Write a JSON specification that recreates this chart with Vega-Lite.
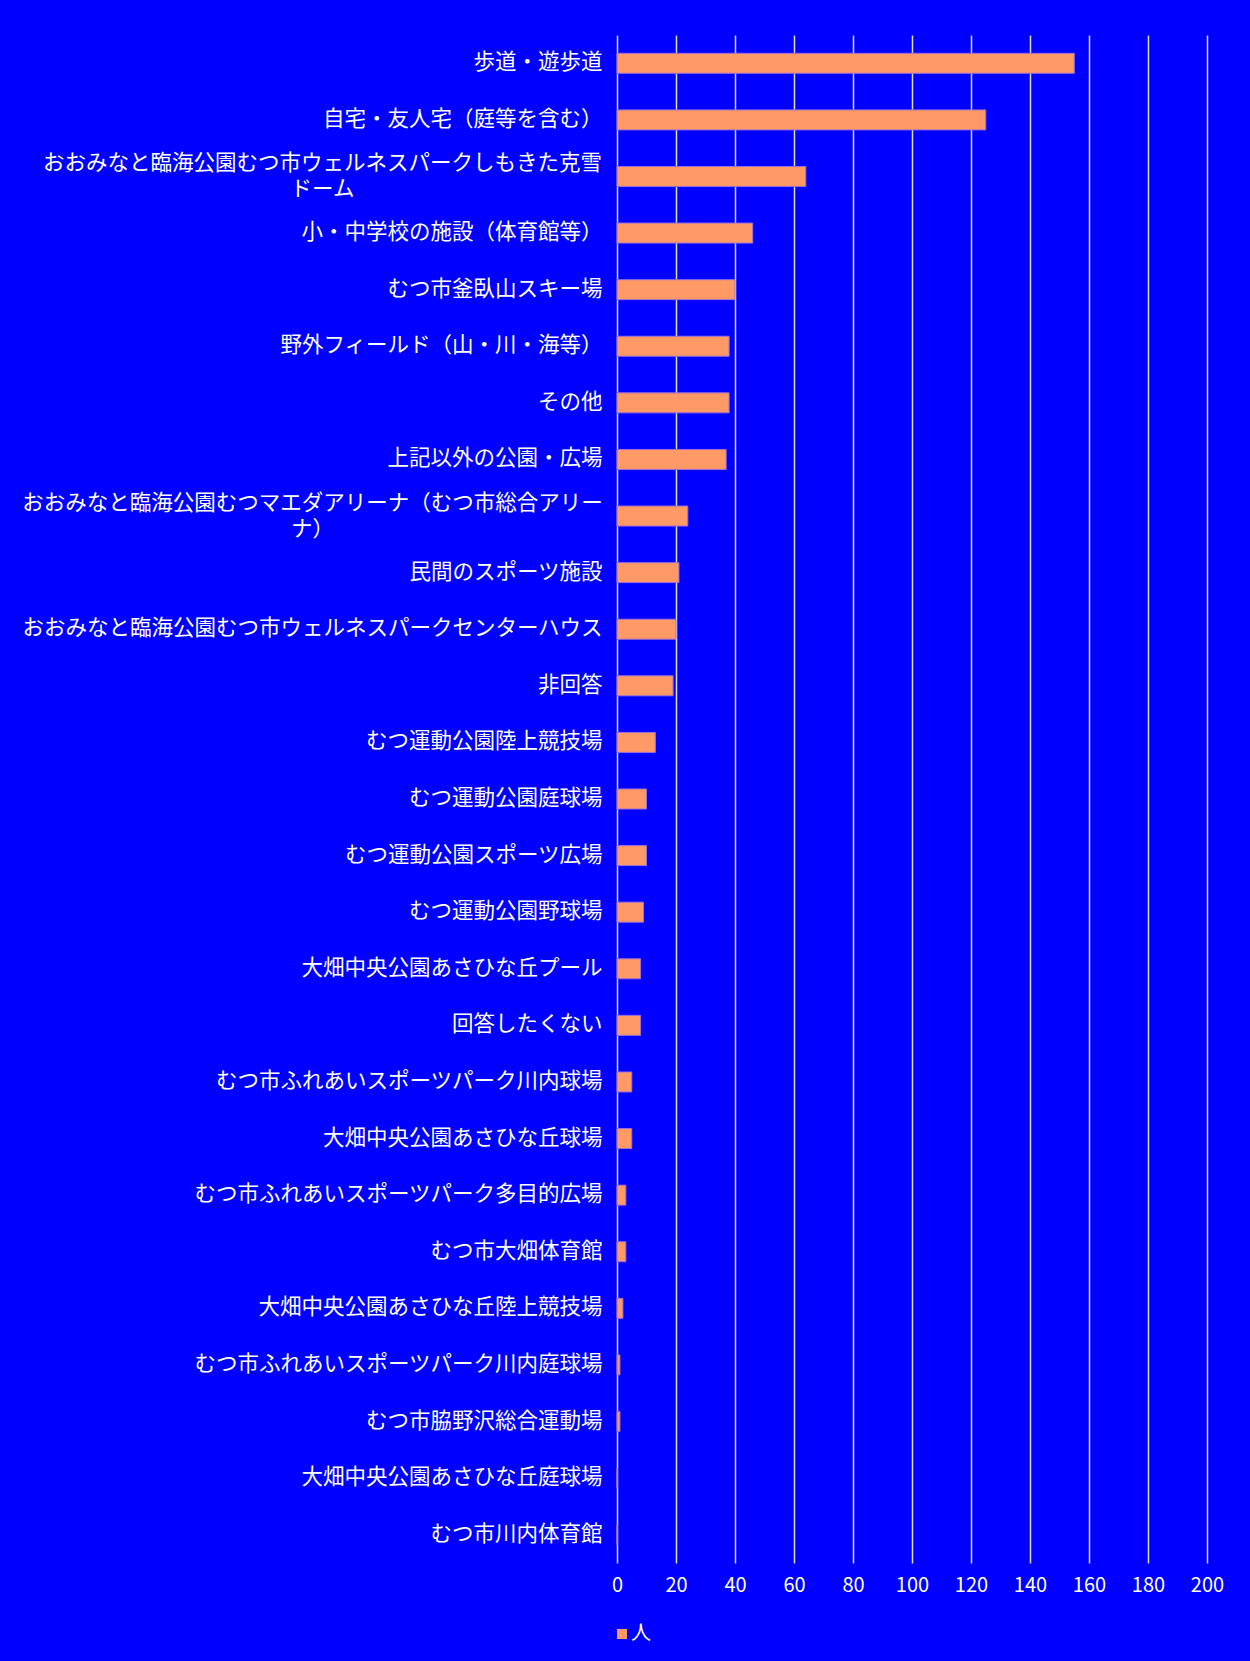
{
  "$schema": "https://vega.github.io/schema/vega-lite/v6.json",
  "autosize": {"type": "none"},
  "width": 590,
  "height": 1528,
  "padding": {"left": 617, "top": 35, "right": 43, "bottom": 98},
  "background": "#0000FF",
  "config": {
    "view": {"stroke": null},
    "font": "Noto Sans CJK JP"
  },
  "data": {
    "values": [
      {"place": "歩道・遊歩道", "count": 155},
      {"place": "自宅・友人宅（庭等を含む）", "count": 125},
      {"place": "おおみなと臨海公園むつ市ウェルネスパークしもきた克雪ドーム", "count": 64},
      {"place": "小・中学校の施設（体育館等）", "count": 46},
      {"place": "むつ市釜臥山スキー場", "count": 40},
      {"place": "野外フィールド（山・川・海等）", "count": 38},
      {"place": "その他", "count": 38},
      {"place": "上記以外の公園・広場", "count": 37},
      {"place": "おおみなと臨海公園むつマエダアリーナ（むつ市総合アリーナ）", "count": 24},
      {"place": "民間のスポーツ施設", "count": 21},
      {"place": "おおみなと臨海公園むつ市ウェルネスパークセンターハウス", "count": 20},
      {"place": "非回答", "count": 19},
      {"place": "むつ運動公園陸上競技場", "count": 13},
      {"place": "むつ運動公園庭球場", "count": 10},
      {"place": "むつ運動公園スポーツ広場", "count": 10},
      {"place": "むつ運動公園野球場", "count": 9},
      {"place": "大畑中央公園あさひな丘プール", "count": 8},
      {"place": "回答したくない", "count": 8},
      {"place": "むつ市ふれあいスポーツパーク川内球場", "count": 5},
      {"place": "大畑中央公園あさひな丘球場", "count": 5},
      {"place": "むつ市ふれあいスポーツパーク多目的広場", "count": 3},
      {"place": "むつ市大畑体育館", "count": 3},
      {"place": "大畑中央公園あさひな丘陸上競技場", "count": 2},
      {"place": "むつ市ふれあいスポーツパーク川内庭球場", "count": 1},
      {"place": "むつ市脇野沢総合運動場", "count": 1},
      {"place": "大畑中央公園あさひな丘庭球場", "count": 0},
      {"place": "むつ市川内体育館", "count": 0}
    ]
  },
  "mark": {"type": "bar", "stroke": "#9A70D8", "strokeWidth": 1},
  "encoding": {
    "y": {
      "field": "place",
      "type": "nominal",
      "sort": null,
      "scale": {"paddingInner": 0.647, "paddingOuter": 0.3235},
      "axis": {
        "title": null,
        "domain": false,
        "ticks": false,
        "labelColor": "#FFFFFF",
        "labelFont": "Noto Sans CJK JP",
        "labelFontSize": 21.5,
        "labelLimit": 1000,
        "labelLineHeight": 26,
        "labelExpr": "indexof(datum.label,'ドーム')>0 ? [replace(datum.label,'ドーム',''),'ドーム'] : (length(datum.label) > 27 ? [slice(datum.label,0,27), slice(datum.label,27)] : datum.label)",
        "labelAlign": {"condition": {"test": "length(datum.value) > 27", "value": "center"}, "value": "right"},
        "labelPadding": {"condition": [
          {"test": "indexof(datum.value,'ドーム') > 0", "value": 295},
          {"test": "length(datum.value) > 27", "value": 305}
        ], "value": 15},
        "labelOffset": {"condition": {"test": "length(datum.value) > 27", "value": -12}, "value": 0}
      }
    },
    "x": {
      "field": "count",
      "type": "quantitative",
      "scale": {"domain": [0, 200], "nice": false},
      "axis": {
        "title": null,
        "domain": false,
        "ticks": false,
        "values": [0, 20, 40, 60, 80, 100, 120, 140, 160, 180, 200],
        "grid": true,
        "gridColor": "#DCDCE8",
        "gridWidth": 1.5,
        "labelColor": "#FFFFFF",
        "labelFont": "Noto Sans CJK JP",
        "labelFontSize": 20,
        "labelPadding": 12,
        "labelFlush": false
      }
    },
    "color": {
      "datum": "人",
      "type": "nominal",
      "scale": {"range": ["#FF9966"]},
      "legend": {
        "title": null,
        "orient": "bottom",
        "direction": "horizontal",
        "symbolType": "square",
        "symbolSize": 100,
        "symbolStrokeWidth": 0,
        "symbolOffset": -5,
        "labelColor": "#FFFFFF",
        "labelFont": "Noto Sans CJK JP",
        "labelFontSize": 20,
        "labelOffset": -1,
        "offset": 29,
        "padding": 0
      }
    }
  }
}
